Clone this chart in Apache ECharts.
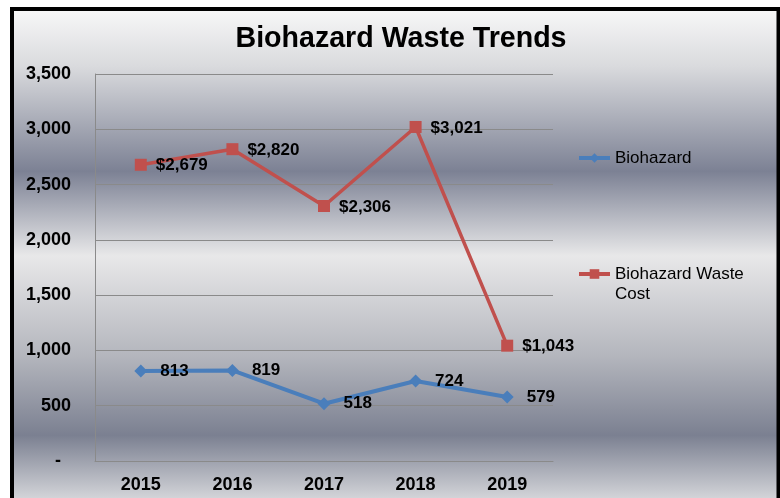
<!DOCTYPE html>
<html>
<head>
<meta charset="utf-8">
<script src="https://cdn.jsdelivr.net/npm/echarts@6/dist/echarts.min.js"></script>
<style>
  html, body { margin: 0; padding: 0; background: #fff; }
  #chart { width: 780px; height: 498px; }
</style>
</head>
<body>
<div id="chart"></div>
<script>
// Yearly figures
const years = ['2015', '2016', '2017', '2018', '2019'];
const biohazard = [813, 819, 518, 724, 579];
const wasteCost = [2679, 2820, 2306, 3021, 1043];
const seriesNames = ['Biohazard', 'Biohazard Waste Cost'];
const titleText = 'Biohazard Waste Trends';

const FONT = '"Liberation Sans", Arial, sans-serif';
const BLUE = '#4a7ebb';
const RED = '#c0504d';
const GRID = '#8a8a8a';

function thousands(v) {
  return String(Math.round(v)).replace(/\B(?=(\d{3})+(?!\d))/g, ',');
}

const chart = echarts.init(document.getElementById('chart'), null, { renderer: 'canvas' });

// Banded grey panel behind the whole chart
const panelFill = new echarts.graphic.LinearGradient(0, 0, 0, 1, [
  { offset: 0.0, color: '#f9f9f9' },
  { offset: 0.12, color: '#d9dadd' },
  { offset: 0.33, color: '#7c8194' },
  { offset: 0.50, color: '#e8e8e9' },
  { offset: 0.70, color: '#b4b6bd' },
  { offset: 0.86, color: '#7b8091' },
  { offset: 1.0, color: '#dcdde0' }
]);

const legendText = { fontFamily: FONT, fontSize: 17, color: '#000', lineHeight: 20 };

chart.setOption({
  backgroundColor: '#ffffff',
  animation: false,
  textStyle: { fontFamily: FONT },
  graphic: [{
    type: 'rect',
    z: -10,
    silent: true,
    shape: { x: 12, y: 9, width: 766.5, height: 494 },
    style: { fill: panelFill, stroke: '#000', lineWidth: 4 }
  }],
  title: {
    text: titleText,
    left: 396,
    textAlign: 'center',
    top: 20,
    textStyle: { fontFamily: FONT, fontSize: 28.6, fontWeight: 'bold', color: '#000' }
  },
  legend: [{
    data: [seriesNames[0]],
    left: 572,
    top: 143,
    itemWidth: 31,
    itemHeight: 12,
    lineStyle: { width: 4 },
    textStyle: legendText
  }, {
    data: [seriesNames[1]],
    left: 572,
    top: 239,
    itemWidth: 31,
    itemHeight: 12,
    lineStyle: { width: 4 },
    // first line sits level with the icon, second line wraps beneath it
    formatter: function (n) { return '\n' + n.replace(' Cost', '\nCost'); },
    textStyle: legendText
  }],
  grid: { left: 95, top: 74, right: 227, bottom: 37, containLabel: false },
  xAxis: {
    type: 'category',
    data: years,
    boundaryGap: true,
    axisLine: { show: true, lineStyle: { color: GRID, width: 1 } },
    axisTick: { show: false },
    axisLabel: { margin: 15, fontFamily: FONT, fontSize: 18, fontWeight: 'bold', color: '#000' },
    splitLine: { show: false }
  },
  yAxis: {
    type: 'value',
    min: 0,
    max: 3500,
    interval: 500,
    axisLine: { show: true, lineStyle: { color: GRID, width: 1 } },
    axisTick: { show: false },
    axisLabel: {
      margin: 24,
      fontFamily: FONT, fontSize: 18, fontWeight: 'bold', color: '#000',
      formatter: function (v) { return v === 0 ? '-  ' : thousands(v); }
    },
    splitLine: { show: true, lineStyle: { color: GRID, width: 1 } }
  },
  series: [{
    name: seriesNames[0],
    type: 'line',
    data: biohazard,
    symbol: 'diamond',
    symbolSize: 13,
    color: BLUE,
    lineStyle: { color: BLUE, width: 4 },
    itemStyle: { color: BLUE },
    z: 3,
    label: {
      show: true,
      position: 'right',
      distance: 13,
      fontFamily: FONT, fontSize: 17, fontWeight: 'bold', color: '#000',
      formatter: function (p) { return thousands(p.value); }
    }
  }, {
    name: seriesNames[1],
    type: 'line',
    data: wasteCost,
    symbol: 'rect',
    symbolSize: 12,
    color: RED,
    lineStyle: { color: RED, width: 3.5 },
    itemStyle: { color: RED },
    z: 3,
    label: {
      show: true,
      position: 'right',
      distance: 9,
      offset: [0, 1],
      fontFamily: FONT, fontSize: 17, fontWeight: 'bold', color: '#000',
      formatter: function (p) { return '$' + thousands(p.value); }
    }
  }]
});
</script>
</body>
</html>
